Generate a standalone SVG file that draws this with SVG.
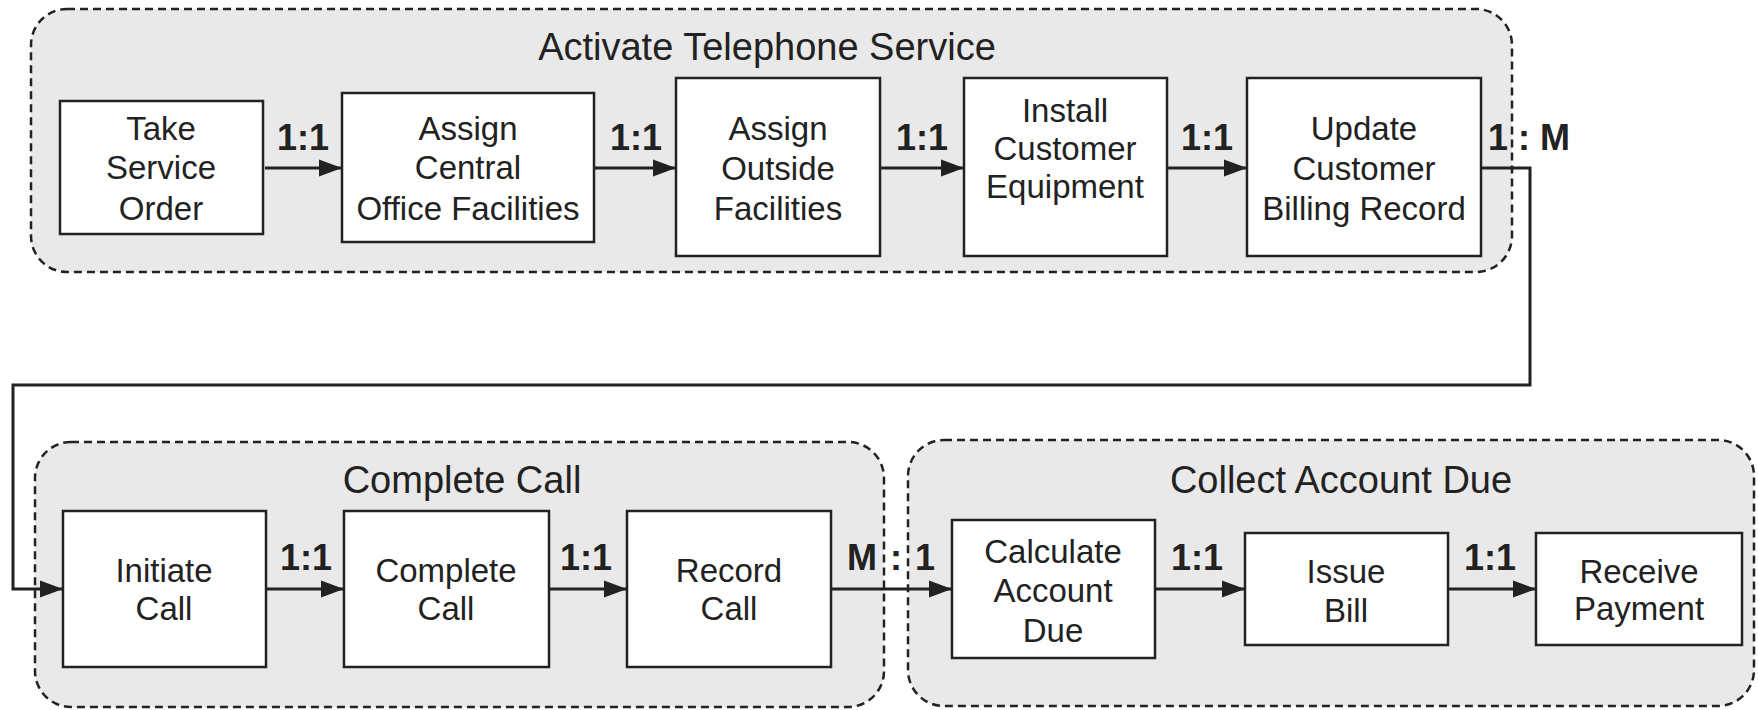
<svg xmlns="http://www.w3.org/2000/svg" width="1758" height="710" viewBox="0 0 1758 710">
<defs>
<style>
.grp{fill:#e9e9e9;stroke:#222;stroke-width:2.5;stroke-dasharray:8 5}
.box{fill:#fff;stroke:#222;stroke-width:2.5}
.t{font-family:"Liberation Sans",Arial,sans-serif;font-size:33px;fill:#222;text-anchor:middle}
.title{font-family:"Liberation Sans",Arial,sans-serif;font-size:38px;fill:#222;text-anchor:middle}
.rel{font-family:"Liberation Sans",Arial,sans-serif;font-size:36px;font-weight:bold;fill:#222;text-anchor:middle}
.relS{font-family:"Liberation Sans",Arial,sans-serif;font-size:36px;font-weight:bold;fill:#222}
.c{fill:none;stroke:#222;stroke-width:3}
</style>
<marker id="arr" markerUnits="userSpaceOnUse" markerWidth="24" markerHeight="18" refX="23" refY="9" orient="auto">
<path d="M0,0.5 L23,9 L0,17.5 z" fill="#222"/>
</marker>
</defs>

<g id="group-activate">
<rect class="grp" x="31" y="9" width="1481" height="263" rx="36"/>
<text class="title" x="767" y="60">Activate Telephone Service</text>
</g>
<g id="group-complete-call">
<rect class="grp" x="35" y="442" width="849" height="265" rx="36"/>
<text class="title" x="462" y="493">Complete Call</text>
</g>
<g id="group-collect">
<rect class="grp" x="908" y="440" width="846" height="266" rx="36"/>
<text class="title" x="1341" y="493">Collect Account Due</text>
</g>

<g id="connectors">
<line class="c" x1="265" y1="168" x2="342" y2="168" marker-end="url(#arr)"/>
<line class="c" x1="594" y1="168" x2="676" y2="168" marker-end="url(#arr)"/>
<line class="c" x1="880" y1="168" x2="964" y2="168" marker-end="url(#arr)"/>
<line class="c" x1="1167" y1="168" x2="1247" y2="168" marker-end="url(#arr)"/>
<path class="c" d="M1481,168 H1530 V385 H13 V589 H63" marker-end="url(#arr)"/>
<line class="c" x1="266" y1="589" x2="344" y2="589" marker-end="url(#arr)"/>
<line class="c" x1="549" y1="589" x2="627" y2="589" marker-end="url(#arr)"/>
<line class="c" x1="831" y1="589" x2="952" y2="589" marker-end="url(#arr)"/>
<line class="c" x1="1155" y1="589" x2="1245" y2="589" marker-end="url(#arr)"/>
<line class="c" x1="1448" y1="589" x2="1536" y2="589" marker-end="url(#arr)"/>
<text class="rel" x="303" y="150">1:1</text>
<text class="rel" x="636" y="150">1:1</text>
<text class="rel" x="922" y="150">1:1</text>
<text class="rel" x="1207" y="150">1:1</text>
<text class="relS" x="1488" y="150">1 : M</text>
<text class="rel" x="306" y="570">1:1</text>
<text class="rel" x="586" y="570">1:1</text>
<text class="relS" x="847" y="570" word-spacing="3">M : 1</text>
<text class="rel" x="1197" y="570">1:1</text>
<text class="rel" x="1490" y="570">1:1</text>
</g>

<g id="take-service-order">
<rect class="box" x="60" y="101" width="203" height="133"/>
<text class="t" x="161" y="140">Take</text>
<text class="t" x="161" y="179">Service</text>
<text class="t" x="161" y="220">Order</text>
</g>
<g id="assign-central-office">
<rect class="box" x="342" y="93" width="252" height="149"/>
<text class="t" x="468" y="140">Assign</text>
<text class="t" x="468" y="179">Central</text>
<text class="t" x="468" y="220">Office Facilities</text>
</g>
<g id="assign-outside">
<rect class="box" x="676" y="78" width="204" height="178"/>
<text class="t" x="778" y="140">Assign</text>
<text class="t" x="778" y="180">Outside</text>
<text class="t" x="778" y="220">Facilities</text>
</g>
<g id="install-equipment">
<rect class="box" x="964" y="78" width="203" height="178"/>
<text class="t" x="1065" y="122">Install</text>
<text class="t" x="1065" y="160">Customer</text>
<text class="t" x="1065" y="198">Equipment</text>
</g>
<g id="update-billing">
<rect class="box" x="1247" y="78" width="234" height="178"/>
<text class="t" x="1364" y="140">Update</text>
<text class="t" x="1364" y="180">Customer</text>
<text class="t" x="1364" y="220">Billing Record</text>
</g>

<g id="initiate-call">
<rect class="box" x="63" y="511" width="203" height="156"/>
<text class="t" x="164" y="582">Initiate</text>
<text class="t" x="164" y="620">Call</text>
</g>
<g id="complete-call">
<rect class="box" x="344" y="511" width="205" height="156"/>
<text class="t" x="446" y="582">Complete</text>
<text class="t" x="446" y="620">Call</text>
</g>
<g id="record-call">
<rect class="box" x="627" y="511" width="204" height="156"/>
<text class="t" x="729" y="582">Record</text>
<text class="t" x="729" y="620">Call</text>
</g>
<g id="calculate-account-due">
<rect class="box" x="952" y="520" width="203" height="138"/>
<text class="t" x="1053" y="563">Calculate</text>
<text class="t" x="1053" y="602">Account</text>
<text class="t" x="1053" y="642">Due</text>
</g>
<g id="issue-bill">
<rect class="box" x="1245" y="533" width="203" height="112"/>
<text class="t" x="1346" y="583">Issue</text>
<text class="t" x="1346" y="622">Bill</text>
</g>
<g id="receive-payment">
<rect class="box" x="1536" y="533" width="206" height="112"/>
<text class="t" x="1639" y="583">Receive</text>
<text class="t" x="1639" y="620">Payment</text>
</g>
</svg>
